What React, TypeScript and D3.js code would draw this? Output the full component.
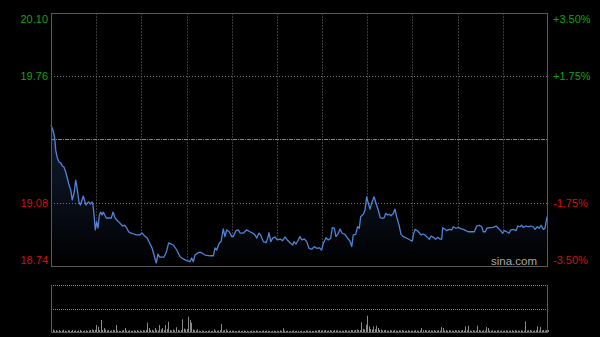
import React from "react";
import * as d3 from "d3";

// Intraday minute offsets (0 = 09:30, HK session, 330 trading minutes)
const minutes = [
  0, 1.3, 2.5, 3.1, 4.2, 5.3, 6.4, 7.5, 8.6, 9.8, 10.8, 12, 13.1, 14.1, 15.3, 16.4, 17.5, 18.6, 19.5, 20.6,
  21.4, 22.4, 23.2, 24.1, 25, 26.1, 27.2, 27.9, 28.6, 29.4, 30.3, 31.2, 32.1, 33, 33.9, 34.7, 35.7, 36.7, 38.3, 40,
  41.2, 42.3, 43.6, 45, 46.3, 47.6, 48.9, 50.3, 51.6, 53.3, 55.1, 56.6, 58.9, 60.6, 62.2, 63.9, 65.5, 67.1, 68.4, 69.9,
  71, 72.2, 73.7, 75, 76.6, 78.1, 81.2, 83.5, 85.7, 87.8, 90.1, 92.3, 93.4, 94.5, 95.6, 96.7, 98.5, 100.1, 102.3, 105.6,
  107.8, 108.9, 110, 111.7, 112.9, 114.4, 115.5, 116.7, 118.4, 120, 121, 122.8, 124.4, 125.5, 127.7, 129.9, 132.1, 133.9, 135.5, 136.6,
  138.1, 139.2, 141, 142.8, 143.9, 144.7, 145.9, 147.2, 148.7, 150.3, 152.1, 153.8, 155.4, 156.9, 158.7, 160.5, 161.3, 162.7, 164.2, 165.3,
  166.5, 168.2, 169.8, 171.3, 173.1, 174.8, 176.4, 178.1, 179.7, 180.8, 182.6, 184.1, 185.7, 186.8, 188.1, 189.2, 190.8, 191.9, 193.4, 195.2,
  196.7, 198.5, 199.7, 200.7, 202.3, 203.6, 204.7, 205.6, 207.4, 208.5, 209.6, 210.7, 211.8, 212.9, 214.5, 215.8, 217.3, 218.6, 220, 221.3,
  222.2, 223.6, 224.6, 225.8, 227.3, 228.4, 229.5, 231.1, 232.4, 233.9, 236.2, 238.4, 239.9, 240.6, 241.7, 243.5, 245.7, 246.8, 248.3, 249.9,
  251.2, 252.3, 253.8, 255.4, 256.8, 258.3, 259.4, 260.1, 261.6, 262.7, 264.5, 266.1, 267.1, 268.9, 270.4, 272, 273.8, 275.4, 277.1, 279.3,
  281.1, 282.7, 284.4, 286, 287, 288.4, 289.3, 291.5, 293.7, 295.5, 297, 298.6, 299.9, 301, 302.6, 304.1, 305.4, 307, 308.8, 309.9,
  311.4, 312.5, 313.6, 315.4, 316.9, 318.7, 320.2, 321.4, 322.9, 324.2, 325.4, 326.9, 328, 329.4,
];

const prices = [
  19.498, 19.471, 19.428, 19.364, 19.321, 19.299, 19.294, 19.278, 19.272, 19.245, 19.213, 19.175, 19.149, 19.095, 19.132, 19.202, 19.149, 19.084, 19.068, 19.095,
  19.116, 19.089, 19.068, 19.079, 19.084, 19.073, 19.084, 19.068, 19.014, 18.934, 18.977, 18.944, 19.014, 19.03, 19.014, 19.03, 19.014, 18.998, 18.998, 18.998,
  19.03, 19.003, 18.987, 18.977, 18.966, 18.955, 18.96, 18.944, 18.923, 18.917, 18.912, 18.907, 18.907, 18.917, 18.901, 18.89, 18.864, 18.837, 18.799, 18.756,
  18.804, 18.788, 18.788, 18.788, 18.815, 18.864, 18.853, 18.826, 18.79, 18.778, 18.769, 18.763, 18.783, 18.763, 18.799, 18.805, 18.815, 18.81, 18.799, 18.795,
  18.795, 18.837, 18.826, 18.864, 18.871, 18.939, 18.898, 18.934, 18.924, 18.898, 18.898, 18.93, 18.934, 18.917, 18.917, 18.934, 18.924, 18.917, 18.907, 18.89,
  18.917, 18.907, 18.871, 18.865, 18.89, 18.919, 18.871, 18.89, 18.896, 18.88, 18.885, 18.876, 18.896, 18.88, 18.865, 18.853, 18.871, 18.858, 18.88, 18.898,
  18.88, 18.885, 18.871, 18.835, 18.83, 18.844, 18.835, 18.838, 18.826, 18.862, 18.892, 18.88, 18.889, 18.946, 18.943, 18.898, 18.916, 18.939, 18.916, 18.91,
  18.892, 18.874, 18.844, 18.907, 18.91, 18.951, 18.943, 19.005, 19.018, 19.041, 19.112, 19.077, 19.046, 19.077, 19.112, 19.077, 19.041, 19.0, 18.996, 19.0,
  19.023, 19.014, 19.018, 19.01, 19.023, 19.046, 19.005, 18.96, 18.91, 18.898, 18.889, 18.88, 18.874, 18.907, 18.937, 18.928, 18.907, 18.912, 18.907, 18.894,
  18.884, 18.901, 18.894, 18.884, 18.894, 18.885, 18.884, 18.946, 18.937, 18.93, 18.937, 18.934, 18.951, 18.943, 18.948, 18.941, 18.937, 18.93, 18.924, 18.924,
  18.924, 18.955, 18.959, 18.951, 18.924, 18.924, 18.943, 18.946, 18.948, 18.955, 18.943, 18.93, 18.916, 18.93, 18.924, 18.916, 18.934, 18.937, 18.93, 18.955,
  18.951, 18.959, 18.948, 18.955, 18.951, 18.955, 18.951, 18.937, 18.951, 18.943, 18.959, 18.937, 18.943, 19.005,
];

// Per-minute volume (minute 0..330)
const volumes = [
  20, 25, 15, 18, 12, 20, 10, 15, 22, 12, 8, 18, 15, 10, 20, 12, 16, 10, 14, 20, 12, 8, 15, 18, 10, 14, 20, 25, 18, 22,
  70, 53, 18, 120, 20, 40, 22, 15, 20, 12, 15, 20, 18, 70, 15, 12, 10, 14, 20, 40, 15, 12, 18, 10, 14, 16, 12, 20, 10, 15,
  12, 18, 15, 20, 93, 40, 18, 22, 15, 40, 20, 15, 70, 25, 40, 18, 70, 30, 103, 20, 15, 25, 18, 47, 22, 15, 20, 127, 35, 25,
  30, 153, 120, 93, 25, 18, 15, 27, 12, 10, 15, 12, 8, 10, 12, 15, 10, 12, 27, 14, 12, 15, 20, 80, 15, 18, 27, 12, 10, 14,
  12, 15, 10, 8, 12, 14, 10, 12, 15, 10, 12, 8, 10, 14, 12, 10, 15, 12, 10, 8, 12, 15, 10, 14, 12, 10, 8, 12, 14, 10,
  12, 10, 15, 12, 37, 14, 10, 12, 8, 10, 12, 15, 10, 12, 14, 10, 12, 8, 10, 15, 12, 10, 14, 12, 10, 15, 12, 18, 20, 15,
  18, 15, 20, 12, 15, 18, 14, 12, 20, 15, 18, 12, 15, 14, 12, 18, 15, 12, 14, 20, 18, 15, 22, 25, 20, 18, 96, 30, 25, 73,
  163, 56, 30, 25, 56, 30, 63, 40, 20, 25, 15, 18, 20, 15, 12, 18, 15, 12, 20, 15, 12, 18, 15, 20, 14, 12, 15, 18, 12, 15,
  12, 15, 18, 14, 12, 15, 40, 18, 20, 15, 12, 18, 15, 14, 20, 12, 15, 18, 14, 50, 40, 15, 20, 12, 18, 15, 14, 12, 20, 15,
  18, 12, 15, 20, 14, 56, 18, 63, 15, 12, 18, 14, 15, 63, 20, 15, 12, 18, 14, 50, 40, 15, 12, 18, 14, 12, 15, 18, 12, 14,
  12, 15, 18, 14, 12, 15, 18, 12, 20, 14, 15, 12, 18, 14, 12, 106, 15, 18, 20, 14, 12, 15, 18, 56, 14, 50, 18, 20, 15, 18,
  20,
];

const prevClose = 19.42;
const priceTicks = [20.1, 19.76, 19.08, 18.74];
const pctTicks = ["+3.50%", "+1.75%", "-1.75%", "-3.50%"];
const timeGridMinutes = [30, 60, 90, 120, 150, 180, 210, 240, 270, 300];

const W = 600;
const H = 337;
const L = 51;
const R = 548;
const T = 13;
const B = 266;
const VT = 285;
const VB = 332;

export default function App() {
  const x = d3.scaleLinear().domain([0, 330]).range([L, R]);
  const y = d3.scaleLinear().domain([18.74, 20.1]).range([B, T]);
  const vy = d3.scaleLinear().domain([0, 470]).range([VB, VT]);

  const pts = minutes.map((m, i) => [m, prices[i]] as [number, number]);
  const line = d3
    .line<[number, number]>()
    .x((d) => x(d[0]))
    .y((d) => y(d[1]));
  const area = d3
    .area<[number, number]>()
    .x((d) => x(d[0]))
    .y0(B)
    .y1((d) => y(d[1]));

  const green = "#13a313";
  const red = "#d01010";
  const font = "Arial, 'Liberation Sans', Helvetica, sans-serif";

  return (
    <svg
      width={W}
      height={H}
      style={{ position: "absolute", left: 0, top: 0, background: "#000", display: "block" }}
    >
      <defs>
        <linearGradient id="af" gradientUnits="userSpaceOnUse" x1="0" y1="120" x2="0" y2={B}>
          <stop offset="0" stopColor="#13203a" stopOpacity="0.9" />
          <stop offset="1" stopColor="#000000" stopOpacity="1" />
        </linearGradient>
      </defs>
      <rect x={0} y={0} width={W} height={H} fill="#000" />

      {/* vertical time grid */}
      {timeGridMinutes.map((m) => (
        <line
          key={"v" + m}
          x1={Math.round(x(m)) + 0.5}
          x2={Math.round(x(m)) + 0.5}
          y1={T}
          y2={B}
          stroke="#3a3a3a"
          strokeDasharray="2,1"
        />
      ))}
      {timeGridMinutes.map((m) => (
        <line
          key={"vv" + m}
          x1={Math.round(x(m)) + 0.5}
          x2={Math.round(x(m)) + 0.5}
          y1={VT}
          y2={VB}
          stroke="#333"
          strokeDasharray="2,1"
          opacity={0}
        />
      ))}

      {/* area and line */}
      <path d={area(pts) || ""} fill="url(#af)" />

      {/* horizontal grid */}
      {[19.76, 19.08].map((p) => (
        <line
          key={"h" + p}
          x1={L}
          x2={R}
          y1={Math.round(y(p)) + 0.5}
          y2={Math.round(y(p)) + 0.5}
          stroke="#777"
          strokeDasharray="1,2"
        />
      ))}
      <line
        x1={L}
        x2={R}
        y1={Math.round(y(prevClose)) + 0.5}
        y2={Math.round(y(prevClose)) + 0.5}
        stroke="#888"
        strokeDasharray="4,1,1,1"
      />

      <path d={line(pts) || ""} fill="none" stroke="#4f84d6" strokeWidth={1.3} strokeLinejoin="round" />

      {/* frame */}
      <rect x={L + 0.5} y={T + 0.5} width={R - L - 1} height={B - T} fill="none" stroke="#5a5a5a" />

      {/* left price labels */}
      {priceTicks.map((p, i) => {
        const yy = y(p);
        const base = i === 0 ? T + 10 : i === priceTicks.length - 1 ? B - 2 : yy + 4;
        return (
          <text
            key={"l" + p}
            x={48}
            y={base}
            textAnchor="end"
            fontFamily={font}
            fontSize={11}
            fill={p > prevClose ? green : red}
          >
            {p.toFixed(2)}
          </text>
        );
      })}
      {/* right percent labels */}
      {priceTicks.map((p, i) => {
        const yy = y(p);
        const base = i === 0 ? T + 10 : i === priceTicks.length - 1 ? B - 2 : yy + 4;
        return (
          <text
            key={"r" + p}
            x={553}
            y={base}
            textAnchor="start"
            fontFamily={font}
            fontSize={11}
            fill={p > prevClose ? green : red}
          >
            {pctTicks[i]}
          </text>
        );
      })}

      <text x={537} y={265} textAnchor="end" fontFamily={font} fontSize={11.5} fill="#a8a8a8">
        sina.com
      </text>

      {/* volume panel */}
      <line x1={L} x2={R} y1={VT + 0.5} y2={VT + 0.5} stroke="#888" strokeDasharray="1,1" />
      <line
        x1={L}
        x2={R}
        y1={Math.round(vy(235)) + 0.5}
        y2={Math.round(vy(235)) + 0.5}
        stroke="#888"
        strokeDasharray="1,1"
      />
      {volumes.map((v, i) => (
        <line
          key={"vol" + i}
          x1={Math.round(x(i)) + 0.5}
          x2={Math.round(x(i)) + 0.5}
          y1={VB}
          y2={vy(v)}
          stroke="#8a8a8a"
          strokeWidth={1}
        />
      ))}
      <line x1={L + 0.5} x2={L + 0.5} y1={VT} y2={VB + 1} stroke="#5a5a5a" />
      <line x1={R - 0.5} x2={R - 0.5} y1={VT} y2={VB + 1} stroke="#5a5a5a" />
      <line x1={L} x2={R} y1={VB + 0.5} y2={VB + 0.5} stroke="#5a5a5a" />
    </svg>
  );
}
